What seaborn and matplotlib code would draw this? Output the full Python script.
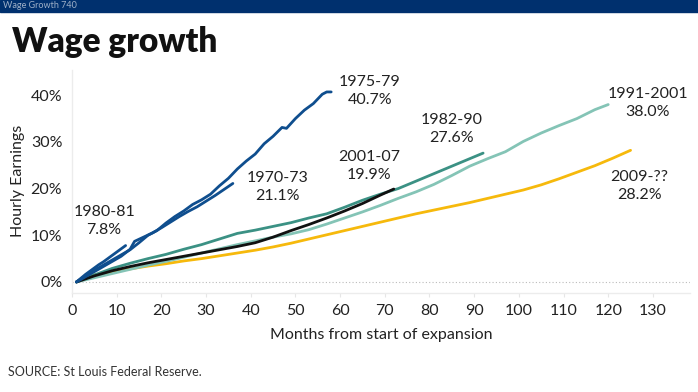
import matplotlib
matplotlib.use("Agg")
import matplotlib.pyplot as plt
import seaborn as sns
import pandas as pd

# ---------------- data ----------------
m_1980 = [1, 2, 3, 4, 5, 6, 7, 8, 9, 10, 11, 12]
v_1980 = [0, 0.8, 1.6, 2.3, 3.0, 3.7, 4.3, 5.0, 5.7, 6.4, 7.1, 7.8]

m_1970 = [1, 3, 5, 7, 9, 11, 13, 14, 16, 18, 20, 22, 24, 26, 28, 30, 32, 34, 36]
v_1970 = [0, 1.1, 2.2, 3.3, 4.4, 5.5, 7.0, 8.7, 9.6, 10.5, 11.6, 12.8, 14.0,
          15.1, 16.1, 17.3, 18.5, 19.8, 21.1]

m_1975 = [1, 3, 5, 7, 9, 11, 13, 15, 17, 19, 21, 23, 25, 27, 29, 31, 33, 35,
          37, 39, 41, 43, 45, 47, 48, 50, 52, 54, 56, 57, 58]
v_1975 = [0, 1.3, 2.5, 3.6, 4.7, 5.8, 6.9, 8.4, 10.0, 11.0, 12.6, 14.0, 15.2,
          16.6, 17.6, 18.8, 20.6, 22.2, 24.2, 25.9, 27.4, 29.6, 31.2, 33.1,
          32.9, 35.0, 36.8, 38.2, 40.2, 40.7, 40.7]

m_1982 = [1, 5, 9, 13, 17, 21, 25, 29, 33, 37, 41, 45, 49, 53, 57, 61, 65,
          69, 73, 77, 81, 85, 89, 92]
v_1982 = [0, 1.5, 2.9, 4.0, 5.0, 5.9, 7.0, 8.0, 9.2, 10.4, 11.1, 11.9, 12.7,
          13.7, 14.6, 16.0, 17.5, 18.8, 20.0, 21.6, 23.2, 24.8, 26.4, 27.6]

m_1991 = [1, 5, 9, 13, 17, 21, 25, 29, 33, 37, 41, 45, 49, 53, 57, 61, 65,
          69, 73, 77, 81, 85, 89, 93, 97, 101, 105, 109, 113, 117, 120]
v_1991 = [0, 0.9, 1.8, 2.7, 3.6, 4.4, 5.3, 6.2, 7.1, 8.0, 8.8, 9.6, 10.3,
          11.2, 12.4, 13.7, 15.0, 16.4, 17.9, 19.3, 20.9, 22.8, 24.8, 26.4,
          27.9, 30.1, 31.9, 33.5, 35.0, 36.9, 38.0]

m_2001 = [1, 5, 9, 13, 17, 21, 25, 29, 33, 37, 41, 45, 49, 53, 57, 61, 65,
          69, 72]
v_2001 = [0, 1.3, 2.4, 3.3, 4.1, 4.8, 5.5, 6.2, 6.9, 7.6, 8.4, 9.6, 11.0,
          12.3, 13.7, 15.2, 16.8, 18.6, 19.9]

m_2009 = [1, 5, 9, 13, 17, 21, 25, 29, 33, 37, 41, 45, 49, 53, 57, 61, 65,
          69, 73, 77, 81, 85, 89, 93, 97, 101, 105, 109, 113, 117, 121, 125]
v_2009 = [0, 1.5, 2.2, 2.8, 3.4, 3.9, 4.5, 5.0, 5.6, 6.2, 6.8, 7.5, 8.3, 9.2,
          10.1, 11.0, 11.9, 12.8, 13.7, 14.6, 15.4, 16.2, 17.0, 17.9, 18.8,
          19.7, 20.8, 22.1, 23.5, 24.9, 26.5, 28.2]

names = ["2009-??", "1991-2001", "1982-90", "2001-07", "1970-73", "1975-79", "1980-81"]
final_pct = ["28.2%", "38.0%", "27.6%", "19.9%", "21.1%", "40.7%", "7.8%"]
x_ticks = list(range(0, 131, 10))
y_ticks = [0, 10, 20, 30, 40]
y_tick_labels = ["0%", "10%", "20%", "30%", "40%"]

series = {
    "2009-??": (m_2009, v_2009),
    "1991-2001": (m_1991, v_1991),
    "1982-90": (m_1982, v_1982),
    "2001-07": (m_2001, v_2001),
    "1970-73": (m_1970, v_1970),
    "1975-79": (m_1975, v_1975),
    "1980-81": (m_1980, v_1980),
}

palette = {
    "2009-??": "#f6b90c",
    "1991-2001": "#84c4b6",
    "1982-90": "#3b9184",
    "2001-07": "#111111",
    "1970-73": "#0f4e8e",
    "1975-79": "#0f4e8e",
    "1980-81": "#0f4e8e",
}

rows = []
for name in names:
    ms, vs = series[name]
    for m, v in zip(ms, vs):
        rows.append({"month": m, "value": v, "expansion": name})
df = pd.DataFrame(rows)

# label positions (centre of the two-line annotation, data coords)
label_pos = {
    "1980-81": (7.2, 13.0),
    "1975-79": (66.7, 40.9),
    "1970-73": (46.0, 20.3),
    "2001-07": (66.4, 24.8),
    "1982-90": (85.0, 32.8),
    "1991-2001": (128.9, 38.3),
    "2009-??": (127.0, 20.6),
}

# ---------------- figure ----------------
sns.set_theme(style="white")
plt.rcParams["font.family"] = ["Lato", "DejaVu Sans"]
text_col = "#222222"

fig = plt.figure(figsize=(6.98, 3.92), dpi=100)
ax = fig.add_axes([72 / 698, 1 - 292.7 / 392, (690 - 72) / 698, (292.7 - 70) / 392])

sns.lineplot(data=df, x="month", y="value", hue="expansion", hue_order=names,
             palette=palette, linewidth=2.0, legend=False, ax=ax,
             sort=False, estimator=None)

ax.axhline(0, color="#bbbbbb", linestyle=(0, (1, 2)), linewidth=0.8, zorder=0)

ax.set_xlim(0, 138.3)
ax.set_ylim(-2.3, 45.4)
ax.set_xticks(x_ticks)
ax.set_xticklabels([str(t) for t in x_ticks])
ax.set_yticks(y_ticks)
ax.set_yticklabels(y_tick_labels)
ax.tick_params(axis="x", length=3, width=0.8, color="#e6e6e6", pad=5,
               labelsize=11.5, labelcolor=text_col, direction="out", bottom=True)
ax.tick_params(axis="y", length=0, pad=7, labelsize=11.5, labelcolor=text_col)
for side in ["top", "right"]:
    ax.spines[side].set_visible(False)
for side in ["left", "bottom"]:
    ax.spines[side].set_color("#ececec")
    ax.spines[side].set_linewidth(1.0)

ax.set_xlabel("Months from start of expansion", fontsize=11.5, color=text_col, labelpad=7)
ax.set_ylabel("Hourly Earnings", fontsize=11.5, color=text_col, labelpad=4)

for name, pct in zip(names, final_pct):
    x, y = label_pos[name]
    ax.text(x, y, f"{name}\n{pct}", ha="center", va="center", fontsize=11.5,
            color=text_col, linespacing=1.4)

# header bar
fig.patches.append(plt.Rectangle((0, 1 - 12 / 392), 1, 12 / 392,
                                 transform=fig.transFigure, color="#00306e", zorder=5))
fig.text(3 / 698, 1 - 6 / 392, "Wage Growth 740", fontsize=6.5, color="#9fb0c8",
         va="center", ha="left", zorder=6)

fig.text(12 / 698, 1 - 42 / 392, "Wage growth", fontsize=24, fontweight="heavy",
         color="#111111", va="center", ha="left")
fig.text(8 / 698, 1 - 372 / 392, "SOURCE: St Louis Federal Reserve.", fontsize=9,
         color="#333333", va="center", ha="left")

fig.savefig("out.png", dpi=100)
